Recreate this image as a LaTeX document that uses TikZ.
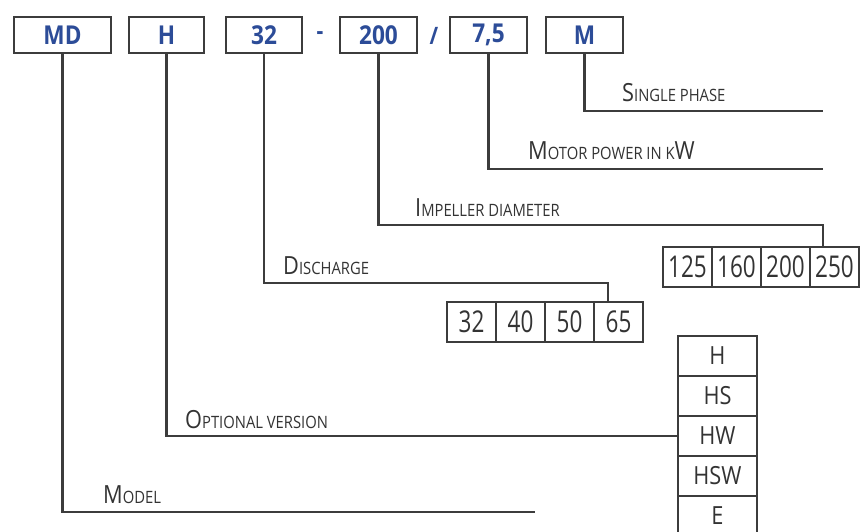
\documentclass[tikz,border=0pt]{standalone}
\usepackage{fontspec}
\setmainfont{Open Sans}
\newfontfamily\topfont[FakeStretch=0.87]{Open Sans}
\newfontfamily\digfont[FakeStretch=0.75]{Open Sans}
\newfontfamily\letfont[FakeStretch=0.87]{Open Sans}
\newcommand\bigc[1]{{\fontsize{25}{25}\selectfont #1}}
\newcommand\smc[1]{{\fontsize{17}{17}\selectfont #1}}
\definecolor{linec}{HTML}{3C3C3C}
\definecolor{textc}{HTML}{333333}
\definecolor{bluec}{HTML}{2C4C98}
\begin{document}
\begin{tikzpicture}[x=1pt,y=-1pt,
  topbox/.style={draw=linec, line width=1.8pt, minimum height=36pt, inner sep=0pt,
    text=bluec, font=\topfont\bfseries\fontsize{26}{26}\selectfont},
  sep/.style={inner sep=0pt, text=bluec, font=\topfont\bfseries\fontsize{24}{24}\selectfont},
  cell/.style={draw=linec, line width=1.8pt, minimum height=40pt, inner sep=0pt, text=textc},
  hcell/.style={cell, minimum width=49pt, font=\digfont\fontsize{30}{30}\selectfont},
  vcell/.style={cell, minimum width=79pt, font=\letfont\fontsize{25}{25}\selectfont},
  conn/.style={draw=linec, line width=2.2pt},
  lbl/.style={anchor=base west, inner sep=0pt, text=textc, font=\letfont}]
\path[use as bounding box, fill=white] (0,0) rectangle (860,532);
% top code boxes
\node[topbox, minimum width=97pt] (tmd) at (62.5,35) {MD};
\node[topbox, minimum width=75pt] (th) at (166.5,35) {H};
\node[topbox, minimum width=76pt] (t32) at (264,35) {32};
\node[sep] (dash) at (320,36) {-};
\node[topbox, minimum width=77pt] (t200) at (378.5,35) {200};
\node[sep] (slash) at (434,36) {/};
\node[topbox, minimum width=77pt] (t75) at (488.5,35) {7,5};
\node[topbox, minimum width=77pt] (tm) at (584.5,35) {M};
% impeller diameter cells
\node[hcell] (i125) at (687.5,267) {125};
\node[hcell] (i160) at (736.5,267) {160};
\node[hcell] (i200) at (785.5,267) {200};
\node[hcell] (i250) at (834.5,267) {250};
% discharge cells
\node[hcell] (d32) at (471.5,322) {32};
\node[hcell] (d40) at (520.5,322) {40};
\node[hcell] (d50) at (569.5,322) {50};
\node[hcell] (d65) at (618.5,322) {65};
% optional version cells
\node[vcell] (vh) at (717.5,356) {H};
\node[vcell] (vhs) at (717.5,396) {HS};
\node[vcell] (vhw) at (717.5,436) {HW};
\node[vcell] (vhsw) at (717.5,476) {HSW};
\node[vcell] (ve) at (717.5,516) {E};
% connector ends
\coordinate (em) at (823,111);
\coordinate (e75) at (823,169);
\coordinate (c200) at (823,225);
\coordinate (c32) at (608,283);
\coordinate (emd) at (535,512);
% connectors
\draw[conn] (tm.south) |- (em);
\draw[conn] (t75.south) |- (e75);
\draw[conn] (t200.south) |- (c200) -- (c200 |- i250.north);
\draw[conn] (t32.south) |- (c32) -- (c32 |- d65.north);
\draw[conn] (th.south) |- (vhw.west);
\draw[conn] (tmd.south) |- (emd);
% labels
\node[lbl] (lsingle) at (622,102) {\bigc{S}\smc{INGLE PHASE}};
\node[lbl] (lmotor) at (528,160) {\bigc{M}\smc{OTOR POWER IN K}\bigc{W}};
\node[lbl] (limp) at (415,216) {\bigc{I}\smc{MPELLER DIAMETER}};
\node[lbl] (ldis) at (283,274) {\bigc{D}\smc{ISCHARGE}};
\node[lbl] (lopt) at (185,428) {\bigc{O}\smc{PTIONAL VERSION}};
\node[lbl] (lmod) at (103,503) {\bigc{M}\smc{ODEL}};
\end{tikzpicture}
\end{document}
